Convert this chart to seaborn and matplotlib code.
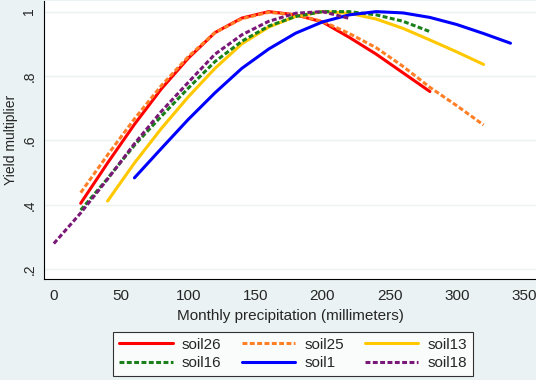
import matplotlib
matplotlib.use("Agg")
import matplotlib.pyplot as plt
import pandas as pd
import seaborn as sns

# precipitation grid (mm) per soil and read-off yield multipliers
SOIL26_X = [20, 40, 60, 80, 100, 120, 140, 160, 180, 200, 220, 240, 260, 280]
SOIL26_Y = [0.405, 0.53, 0.65, 0.76, 0.855, 0.935, 0.98, 1.0, 0.99, 0.968, 0.92, 0.868, 0.81, 0.752]

SOIL25_X = [20, 40, 60, 80, 100, 120, 140, 160, 180, 200, 220, 240, 260, 280, 300, 320]
SOIL25_Y = [0.438, 0.555, 0.667, 0.77, 0.86, 0.935, 0.978, 0.998, 0.99, 0.97, 0.932, 0.888, 0.83, 0.765, 0.708, 0.648]

SOIL13_X = [40, 60, 80, 100, 120, 140, 160, 180, 200, 220, 240, 260, 280, 300, 320]
SOIL13_Y = [0.412, 0.53, 0.637, 0.735, 0.824, 0.9, 0.952, 0.985, 1.0, 0.995, 0.977, 0.948, 0.912, 0.875, 0.836]

SOIL16_X = [20, 40, 60, 80, 100, 120, 140, 160, 180, 200, 220, 240, 260, 280]
SOIL16_Y = [0.384, 0.482, 0.585, 0.675, 0.762, 0.845, 0.908, 0.955, 0.985, 1.0, 1.0, 0.99, 0.97, 0.938]

SOIL1_X = [60, 80, 100, 120, 140, 160, 180, 200, 220, 240, 260, 280, 300, 320, 340]
SOIL1_Y = [0.484, 0.575, 0.665, 0.748, 0.824, 0.884, 0.933, 0.968, 0.99, 1.0, 0.996, 0.982, 0.96, 0.932, 0.902]

SOIL18_X = [0, 20, 40, 60, 80, 100, 120, 140, 160, 180, 200, 220]
SOIL18_Y = [0.28, 0.375, 0.48, 0.59, 0.69, 0.78, 0.868, 0.928, 0.97, 0.995, 1.0, 0.979]

SOILS = ["soil26", "soil25", "soil13", "soil16", "soil1", "soil18"]
COLORS = {
    "soil26": "#FF0000",
    "soil25": "#FF7F27",
    "soil13": "#FFC800",
    "soil16": "#1A801A",
    "soil1": "#0000FF",
    "soil18": "#7A1878",
}
DASHES = {
    "soil26": "",
    "soil25": (1.6, 0.8),
    "soil13": "",
    "soil16": (1.6, 0.8),
    "soil1": "",
    "soil18": (1.6, 0.8),
}
LW = 2.2

series = {
    "soil26": (SOIL26_X, SOIL26_Y),
    "soil25": (SOIL25_X, SOIL25_Y),
    "soil13": (SOIL13_X, SOIL13_Y),
    "soil16": (SOIL16_X, SOIL16_Y),
    "soil1": (SOIL1_X, SOIL1_Y),
    "soil18": (SOIL18_X, SOIL18_Y),
}
df = pd.concat(
    [pd.DataFrame({"precip": xs, "yield": ys, "soil": name}) for name, (xs, ys) in series.items()],
    ignore_index=True,
)

BG = "#EAF2F3"
sns.set_style("white")
plt.rcParams["font.family"] = ["Liberation Sans", "DejaVu Sans"]

fig = plt.figure(figsize=(5.36, 3.8), dpi=100, facecolor=BG)
ax = fig.add_axes([43.9 / 536, 1 - 279 / 380, (536 - 43.9) / 536, (279 - 1) / 380])
ax.set_facecolor("white")

sns.lineplot(
    data=df,
    x="precip",
    y="yield",
    hue="soil",
    style="soil",
    hue_order=SOILS,
    style_order=SOILS,
    palette=COLORS,
    dashes=DASHES,
    linewidth=LW,
    ax=ax,
    legend=False,
)

ax.set_xlim(-7.4, 359)
ax.set_ylim(0.170, 1.033)
ax.set_xticks([0, 50, 100, 150, 200, 250, 300, 350])
ax.set_yticks([0.2, 0.4, 0.6, 0.8, 1.0])
ax.set_yticklabels([".2", ".4", ".6", ".8", "1"], rotation=90, va="center")
ax.yaxis.grid(True, color=BG, linewidth=1.0)
ax.set_axisbelow(True)
for side in ["top", "right"]:
    ax.spines[side].set_visible(False)
for side in ["left", "bottom"]:
    ax.spines[side].set_color("#000000")
    ax.spines[side].set_linewidth(0.8)
ax.tick_params(axis="both", direction="out", length=3.5, width=0.8, color="#000000", pad=2)
ax.tick_params(axis="x", labelsize=11, pad=4)
ax.tick_params(axis="y", labelsize=10)
ax.set_xlabel("Monthly precipitation (millimeters)", fontsize=11, labelpad=4)
ax.set_ylabel("Yield multiplier", fontsize=10, labelpad=3)

handles = []
for name in SOILS:
    (h,) = ax.plot([], [], color=COLORS[name], linewidth=LW)
    if DASHES[name]:
        h.set_dashes(DASHES[name])
    handles.append(h)
order = [0, 3, 1, 4, 2, 5]
leg = fig.legend(
    [handles[i] for i in order],
    [SOILS[i] for i in order],
    ncol=3,
    loc="upper left",
    bbox_to_anchor=(113 / 536, 1 - 331.6 / 380),
    frameon=True,
    fancybox=False,
    edgecolor="#000000",
    fontsize=11,
    handlelength=3.5,
    handletextpad=0.6,
    columnspacing=1.35,
    labelspacing=0.3,
    borderpad=0.4,
    borderaxespad=0,
)
leg.get_frame().set_linewidth(0.8)
leg.get_frame().set_facecolor("white")

fig.savefig("out.png", dpi=100, facecolor=BG)
